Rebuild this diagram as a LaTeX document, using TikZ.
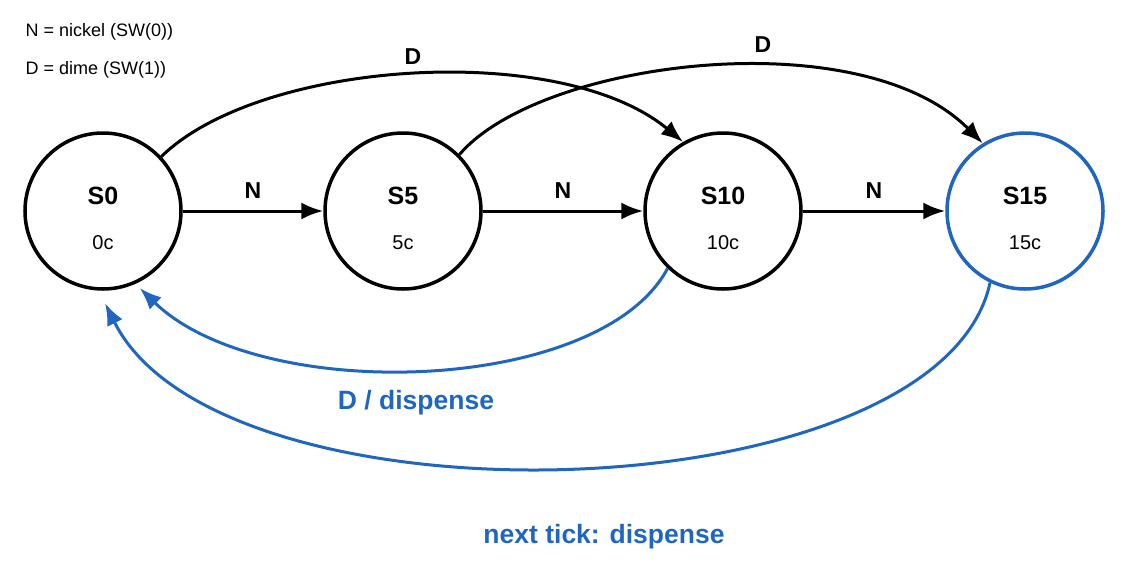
\documentclass[tikz,border=0pt]{standalone}
\usepackage{fontspec}
\setmainfont{Liberation Sans}
\usetikzlibrary{arrows.meta}
\definecolor{fsmblue}{HTML}{1F66C0}
\begin{document}
\begin{tikzpicture}[x=1pt,y=-1pt,
  st/.style={circle,draw,line width=3.5pt,minimum size=156pt,inner sep=0pt},
  arr/.style={line width=3pt,-{Latex[length=22pt,width=17pt]}},
  lab/.style={font=\bfseries\fontsize{23}{25}\selectfont},
  blab/.style={font=\bfseries\fontsize{26.5}{28}\selectfont,text=fsmblue},
  sname/.style={font=\bfseries\fontsize{25}{27}\selectfont},
  sval/.style={font=\fontsize{20}{22}\selectfont}]
\useasboundingbox (0,0) rectangle (1129,576);
\node[st] (s0) at (103,211) {};
\node[st] (s5) at (403,211) {};
\node[st] (s10) at (723,211) {};
\node[st,draw=fsmblue] (s15) at (1025,211) {};
\foreach \n/\a/\b/\x in {s0/S0/0c/103,s5/S5/5c/403,s10/S10/10c/723,s15/S15/15c/1025}{
  \node[sname] (\n t) at (\x,196) {\a};
  \node[sval] (\n v) at (\x,243) {\b};
}
\node[anchor=west,font=\fontsize{18}{20}\selectfont] (k1) at (22,32) {N = nickel (SW(0))};
\node[anchor=west,font=\fontsize{18}{20}\selectfont] (k2) at (22,70) {D = dime (SW(1))};
\draw[arr] (s0) -- (s5) node[midway,lab,above=8pt] {N};
\draw[arr] (s5) -- (s10) node[midway,lab,above=8pt] {N};
\draw[arr] (s10) -- (s15) node[midway,lab,above=8pt] {N};
\draw[arr] (s0.43) .. controls (260,60) and (560,40) .. (s10.120);
\node[lab] (d1) at (413,57) {D};
\draw[arr] (s5.45) .. controls (540,60) and (860,20) .. (s15.122);
\node[lab] (d2) at (763,45) {D};
\draw[arr,color=fsmblue,shorten >=6pt] (s10.226) .. controls (600,395) and (260,405) .. (s0.294);
\node[blab] (dd) at (416,403) {D / dispense};
\draw[arr,color=fsmblue,shorten >=14pt] (s15.244) .. controls (940,515) and (220,535) .. (s0.267);
\node[blab] (nt) at (604,537) {next tick: dispense};
\end{tikzpicture}
\end{document}
